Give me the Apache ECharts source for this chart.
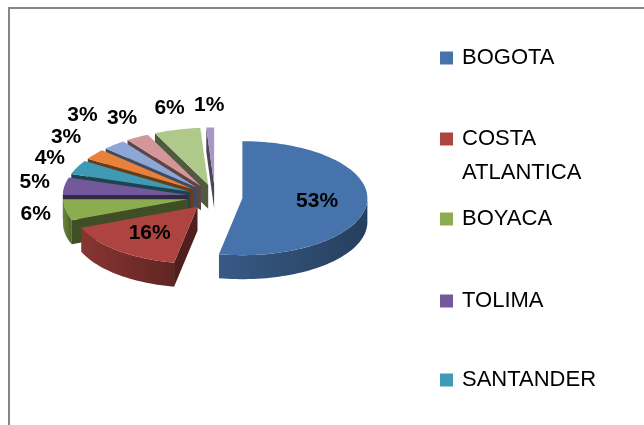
<!DOCTYPE html>
<html>
<head>
<meta charset="utf-8">
<script src="https://cdn.jsdelivr.net/npm/echarts@6/dist/echarts.min.js"></script>
<style>
  html, body { margin: 0; padding: 0; background: #fff; }
  #chart { width: 644px; height: 425px; }
</style>
</head>
<body>
<div id="chart"></div>
<script>
// data
var regions = ['BOGOTA', 'COSTA ATLANTICA', 'BOYACA', 'TOLIMA', 'SANTANDER',
  'REGION 6', 'REGION 7', 'REGION 8', 'REGION 9', 'REGION 10']
var values = [53, 16, 6, 5, 4, 3, 3, 3, 6, 1]
var colors = ['#4673AB', '#AE4440', '#8CAD4F', '#74599A', '#3E9AB5',
  '#E8823A', '#8CA6D5', '#D3979A', '#AFC98B', '#A698C4']
var legendNames = regions.slice(0, 5) // the rest is cut off by the frame

// 3d pie layout
var CX = 215, CY = 197, RX = 125, RY = 57, DEPTH = 24, EXPLODE = 0.22
var FONT = 'Liberation Sans, Arial, sans-serif'

var total = values.reduce(function (a, b) { return a + b }, 0)

function angles(i) {
  var s = 0
  for (var j = 0; j < i; j++) s += values[j]
  return [s / total * 360, (s + values[i]) / total * 360]
}

function pos(ox, oy, deg, kx, ky) {
  var r = deg * Math.PI / 180
  return [ox + RX * kx * Math.sin(r), oy - RY * (ky == null ? kx : ky) * Math.cos(r)]
}

function shade(hex, f) {
  var n = parseInt(hex.slice(1), 16)
  var r = Math.round(((n >> 16) & 255) * f)
  var g = Math.round(((n >> 8) & 255) * f)
  var b = Math.round((n & 255) * f)
  return 'rgb(' + r + ',' + g + ',' + b + ')'
}

function arc(v, a0, a1, dy) {
  var pts = []
  var n = Math.max(2, Math.ceil((a1 - a0) / 2))
  for (var k = 0; k <= n; k++) {
    var p = pos(v[0], v[1], a0 + (a1 - a0) * k / n, 1)
    pts.push([p[0], p[1] + dy])
  }
  return pts
}

// label positions: big slices inside, small ones just outside the rim,
// pushed further out when they would overlap a previous one
var labelPos = (function () {
  var boxes = []
  return values.map(function (v, i) {
    var a = angles(i), mid = (a[0] + a[1]) / 2
    var c = pos(CX, CY, mid, EXPLODE)
    if (v / total > 0.1) return pos(c[0], c[1], mid, 0.6)
    var rim = pos(c[0], c[1], mid, 1)
    var r = mid * Math.PI / 180, p
    for (var t = 0; t < 20; t++) {
      var d = 30 + t * 6, e = 22 + t * 6
      p = [rim[0] + d * Math.sin(r), rim[1] - e * Math.cos(r)]
      var hit = boxes.some(function (b) {
        return Math.abs(b[0] - p[0]) < 34 && Math.abs(b[1] - p[1]) < 18
      })
      if (!hit) break
    }
    boxes.push(p)
    return p
  })
})()

function renderSlice(params, api) {
  var i = params.seriesIndex
  var a = angles(i), mid = (a[0] + a[1]) / 2
  var v = pos(CX, CY, mid, EXPLODE)
  var col = colors[i]
  var children = []

  // outer wall, only the front half shows
  var w0 = Math.max(a[0], 90), w1 = Math.min(a[1], 270)
  if (w1 > w0) {
    var top = arc(v, w0, w1, 0)
    var bot = arc(v, w0, w1, DEPTH).reverse()
    children.push({
      type: 'polygon',
      shape: { points: top.concat(bot) },
      style: {
        fill: new echarts.graphic.LinearGradient(0, 0, 1, 0, [
          { offset: 0, color: shade(col, 0.78) },
          { offset: 1, color: shade(col, 0.55) }
        ])
      }
    })
  }

  // cut faces
  ;[[a[0], a[0] - 90], [a[1], a[1] + 90]].forEach(function (f) {
    if (Math.cos(f[1] * Math.PI / 180) >= -0.01) return
    var p = pos(v[0], v[1], f[0], 1)
    children.push({
      type: 'polygon',
      shape: { points: [v, p, [p[0], p[1] + DEPTH], [v[0], v[1] + DEPTH]] },
      style: { fill: shade(col, 0.45) }
    })
  })

  // top face
  children.push({
    type: 'polygon',
    shape: { points: [v].concat(arc(v, a[0], a[1], 0)) },
    style: { fill: col }
  })

  var lp = labelPos[i]
  children.push({
    type: 'text',
    x: lp[0],
    y: lp[1],
    style: {
      text: Math.round(api.value(0) / total * 100) + '%',
      fill: '#000',
      font: 'bold 21px ' + FONT,
      align: 'center',
      verticalAlign: 'middle'
    }
  })

  return { type: 'group', children: children }
}

// back slices first
var order = values.map(function (v, i) {
  var a = angles(i)
  return { i: i, f: -Math.cos((a[0] + a[1]) / 2 * Math.PI / 180) }
}).sort(function (p, q) { return p.f - q.f })
var zOf = {}
order.forEach(function (o, k) { zOf[o.i] = 2 + k })

var series = regions.map(function (name, i) {
  return {
    type: 'custom',
    name: name,
    coordinateSystem: 'none',
    z: zOf[i],
    itemStyle: { color: colors[i] },
    renderItem: renderSlice,
    data: [values[i]]
  }
})

// marker centres; a two-word name wraps, its first line stays beside the marker
var legendCenters = [58, 139, 219, 301, 380]
var legends = legendNames.map(function (name, i) {
  var two = name.indexOf(' ') > 0
  return {
    data: [name],
    left: 440,
    top: two ? legendCenters[i] - 51 : legendCenters[i] - 11,
    orient: 'vertical',
    icon: 'rect',
    itemWidth: 13,
    itemHeight: 13,
    padding: 0,
    selectedMode: false,
    formatter: function (n) { return n.indexOf(' ') > 0 ? ' \n' + n.replace(' ', '\n') : n },
    textStyle: {
      fontFamily: FONT,
      fontSize: 22,
      color: '#000',
      lineHeight: two ? 34 : 22,
      padding: [0, 0, 0, 4]
    }
  }
})

var chart = echarts.init(document.getElementById('chart'))
chart.setOption({
  animation: false,
  color: colors,
  legend: legends,
  graphic: [{
    type: 'rect',
    z: 0,
    shape: { x: 9, y: 8, width: 700, height: 500 },
    style: { fill: 'none', stroke: '#868686', lineWidth: 2 }
  }],
  series: series
})
</script>
</body>
</html>
